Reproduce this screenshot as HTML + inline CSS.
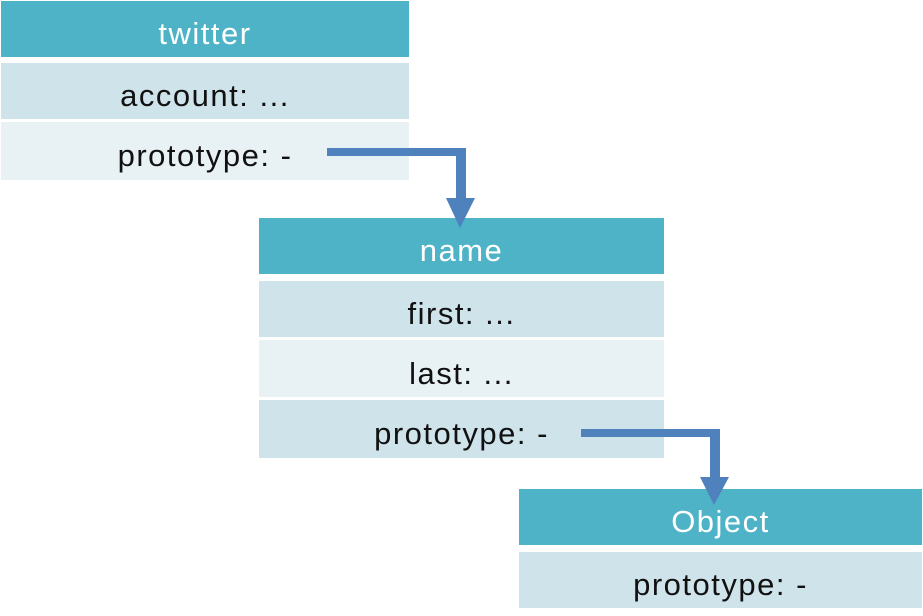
<!DOCTYPE html>
<html><head><style>
body{margin:0;width:923px;height:616px;background:#fff;position:relative;overflow:hidden;font-family:"Liberation Sans","DejaVu Sans",sans-serif;}
.c{position:absolute;display:flex;align-items:center;justify-content:center;font-size:31px;letter-spacing:1.5px;color:#111;box-sizing:border-box;padding-top:10px;}
.h{background:#4fb3c8;color:#fff;}
.a{background:#cfe3ea;}
.b{background:#e8f1f4;}
svg{position:absolute;left:0;top:0;}
</style></head><body>
<div class="c h" style="left:1px;top:1px;width:408px;height:56px;">twitter</div>
<div class="c a" style="left:1px;top:63px;width:408px;height:56px;">account: ...</div>
<div class="c b" style="left:1px;top:122px;width:408px;height:58px;">prototype: -</div>

<div class="c h" style="left:259px;top:218px;width:405px;height:56px;">name</div>
<div class="c a" style="left:259px;top:281px;width:405px;height:56px;">first: ...</div>
<div class="c b" style="left:259px;top:340px;width:405px;height:57px;">last: ...</div>
<div class="c a" style="left:259px;top:400px;width:405px;height:58px;">prototype: -</div>

<div class="c h" style="left:519px;top:489px;width:403px;height:56px;">Object</div>
<div class="c a" style="left:519px;top:552px;width:403px;height:56px;">prototype: -</div>

<svg width="923" height="616">
<g fill="#4f81bd">
<rect x="327" y="148" width="139" height="8"/>
<rect x="456" y="148" width="10" height="52"/>
<polygon points="446,198 475,198 460,228"/>
<rect x="581" y="429" width="139" height="8"/>
<rect x="710" y="429" width="10" height="50"/>
<polygon points="700,477 729,477 714,505"/>
</g>
</svg>
</body></html>
